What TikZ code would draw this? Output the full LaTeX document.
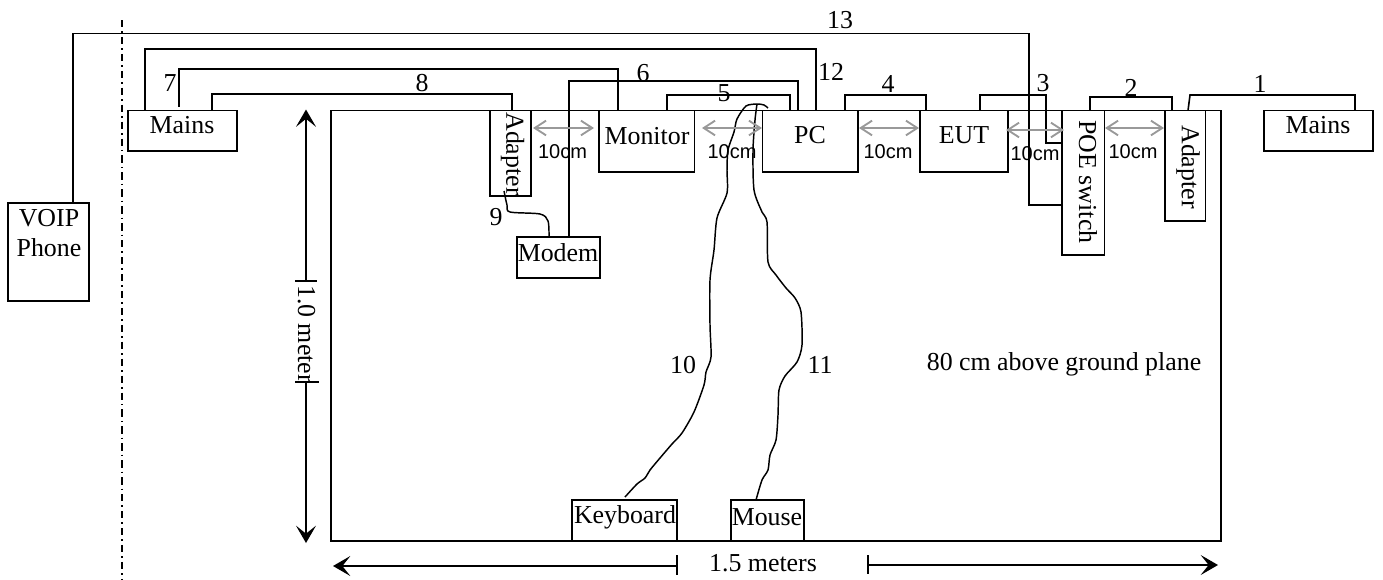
\documentclass[tikz,border=0pt]{standalone}
\usepackage{fontspec}
\setmainfont{Liberation Serif}
\newfontfamily\arialf{Liberation Sans}
\usetikzlibrary{arrows.meta,calc}
\newcommand{\devbox}[5]{%
  \pgfmathsetmacro{\bw}{(#4-#2)*0.75}\pgfmathsetmacro{\bh}{(#5-#3)*0.75}%
  \pgfmathsetmacro{\cx}{(#4+#2)/2}\pgfmathsetmacro{\cy}{(#5+#3)/2}%
  \node[devb,minimum width=\bw pt,minimum height=\bh pt] (#1) at (\cx,\cy) {};}
\tikzset{
  devb/.style={draw=black,line width=1.2pt,inner sep=0pt,outer sep=0pt,rectangle},
  wire/.style={draw=black,line width=1.2pt,line join=miter},
  cable/.style={draw=black,line width=1.1pt,line join=round},
  txt/.style={font=\fontsize{19.4pt}{23pt}\selectfont,inner sep=0pt,outer sep=0pt,text=black},
  rot/.style={txt,rotate=-90},
  dist/.style={font=\arialf\fontsize{15pt}{18pt}\selectfont,inner sep=0pt,text=black},
  gap/.style={draw=black!40,line width=1.4pt,{Straight Barb[length=8.5pt,width=11pt]}-{Straight Barb[length=8.5pt,width=11pt]}},
  dim/.style={draw=black,line width=1.1pt},
  dimtip/.style={-{Stealth[length=13pt,width=15pt,inset=6pt]}}
}
\begin{document}
\begin{tikzpicture}[x=0.75pt,y=-0.75pt]
\useasboundingbox (0,0) rectangle (1383,579);
% table and boundary
\devbox{table}{331}{110.5}{1221}{541}
\coordinate (bndA) at (122,20);
\coordinate (bndB) at (122,579);
\draw[black,line width=1.15pt,dash pattern=on 5.5pt off 3pt on 1.2pt off 3pt] (bndA) -- (bndB);
% devices
\devbox{voip}{8}{203}{89}{301}
\devbox{mainsL}{128}{110.5}{237}{151}
\devbox{adapL}{490}{110.5}{531}{196}
\devbox{monitor}{599}{110.5}{694.5}{172}
\devbox{pc}{762.5}{110.5}{858}{172}
\devbox{eut}{920}{110.5}{1008}{172}
\devbox{poe}{1062}{110.5}{1104.5}{255}
\devbox{adapR}{1165}{110.5}{1205.5}{221}
\devbox{mainsR}{1264}{110.5}{1373}{151}
\devbox{modem}{517}{237}{600}{278}
\devbox{kbd}{572}{500}{677}{541}
\devbox{mouse}{731}{500}{804}{541}
% device texts
\node[txt] (tv1) at (49,218) {VOIP};
\node[txt] (tv2) at (49,248) {Phone};
\node[txt] (tmL) at (182,125.5) {Mains};
\node[rot] (taL) at (512.5,154) {Adapter};
\node[txt] (tmo) at (647,136) {Monitor};
\node[txt] (tpc) at (810,135) {PC};
\node[txt] (teu) at (964,135) {EUT};
\node[rot] (tpo) at (1088,182) {POE switch};
\node[rot] (taR) at (1188,167) {Adapter};
\node[txt] (tmR) at (1318,125.5) {Mains};
\node[txt] (tmd) at (558,253) {Modem};
\node[txt] (tkb) at (625,517) {Keyboard};
\node[txt] (tms) at (767,517) {Mouse};
% numbered wires
\draw[wire] ($(voip.north west)+(65,0)$) -- ++(0,-169.5) -- (1029,33.5) -- (1029,205) -- ($(poe.north west)+(0,94.5)$);
\draw[wire] ($(mainsL.north west)+(17,0)$) -- ++(0,-61.5) -| ($(pc.north west)+(53.5,0)$);
\draw[wire] ($(mainsL.north west)+(51,-4)$) -- ++(0,-37.5) -| ($(monitor.north west)+(19,0)$);
\draw[wire] ($(mainsL.north west)+(84,0)$) -- ++(0,-16.5) -| ($(adapL.north west)+(22,0)$);
\draw[wire] ($(modem.north west)+(52,0)$) -- ++(0,-156) -| ($(pc.north west)+(35.5,0)$);
\draw[wire] ($(monitor.north west)+(68,0)$) -- ++(0,-15.5) -| ($(pc.north west)+(27.5,0)$);
\draw[wire] ($(pc.north west)+(82.5,0)$) -- ++(0,-15.5) -| ($(eut.north west)+(6,0)$);
\draw[wire] ($(eut.north west)+(60,0)$) -- ++(0,-15.5) -- ++(66,0) -- ++(0,48) -- ($(poe.north west)+(0,32.5)$);
\draw[wire] ($(poe.north west)+(28,0)$) -- ++(0,-13.5) -| ($(adapR.north west)+(7,0)$);
\draw[wire] ($(adapR.north west)+(23,0)$) -- ++(2,-15.5) -| ($(mainsR.north west)+(91,0)$);
% hand-drawn cables
\coordinate (c9a) at (504,191);
\coordinate (c9b) at ($(modem.north west)+(32,0)$);
\draw[cable] plot[smooth,tension=0.5] coordinates {(c9a) (507,205) (510,212) (540,214) (548,221) (c9b)};
\coordinate (c10a) at (768,108);
\coordinate (c10b) at ($(kbd.north west)+(53,-3)$);
\draw[cable] plot[smooth,tension=0.45] coordinates {(c10a) (764,105) (757,104) (746,106) (737,119) (734,132) (728,150) (727,170) (727,193) (717,218) (714,250) (710,280) (710,325) (711,357) (706,372) (704,385) (694,412) (682,433) (672,444) (660,458) (650,470) (645,478) (637,484) (c10b)};
\coordinate (c11a) at (757,104);
\coordinate (c11b) at ($(mouse.north west)+(25,0)$);
\draw[cable] plot[smooth,tension=0.45] coordinates {(c11a) (755,120) (753,150) (754,190) (762,212) (767,222) (768,262) (776,275) (786,288) (795,298) (801,312) (802,345) (797,362) (785,376) (779,390) (778,415) (776,440) (770,455) (768,470) (762,480) (c11b)};
% wire numbers
\node[txt] (n1) at (1260,84) {1};
\node[txt] (n2) at (1131,88) {2};
\node[txt] (n3) at (1043,83) {3};
\node[txt] (n4) at (888,84) {4};
\node[txt] (n5) at (724,93) {5};
\node[txt] (n6) at (643,73) {6};
\node[txt] (n7) at (170,83) {7};
\node[txt] (n8) at (422,83) {8};
\node[txt] (n9) at (496,217) {9};
\node[txt] (n10) at (683,365) {10};
\node[txt] (n11) at (820,365) {11};
\node[txt] (n12) at (831,72) {12};
\node[txt] (n13) at (840,20) {13};
% 10 cm gaps
\coordinate (g1a) at (533,128); \coordinate (g1b) at (594,128);
\coordinate (g2a) at (702,128); \coordinate (g2b) at (762,128);
\coordinate (g3a) at (859,128); \coordinate (g3b) at (919,128);
\coordinate (g4a) at (1006,130); \coordinate (g4b) at (1064,130);
\coordinate (g5a) at (1105,128); \coordinate (g5b) at (1164,128);
\draw[gap] (g1a) -- (g1b);
\draw[gap] (g2a) -- (g2b);
\draw[gap] (g3a) -- (g3b);
\draw[gap] (g4a) -- (g4b);
\draw[gap] (g5a) -- (g5b);
\node[dist] (d1) at (562.5,152) {10cm};
\node[dist] (d2) at (732,152) {10cm};
\node[dist] (d3) at (888,152) {10cm};
\node[dist] (d4) at (1035,154) {10cm};
\node[dist] (d5) at (1133,152) {10cm};
% dimensions
\node[txt] (other) at (1064,364) {80 cm above ground plane};
\node[rot] (dv) at (306.5,334) {1.0 meter};
\node[txt] (dh) at (763,563) {1.5 meters};
\coordinate (v1) at (306,281); \coordinate (v1t) at (306,109.5);
\coordinate (v2) at (306,382); \coordinate (v2t) at (306,543);
\coordinate (h1) at (677,566); \coordinate (h1t) at (333,566);
\coordinate (h2) at (868,565); \coordinate (h2t) at (1218,565);
\draw[dim,dimtip] (v1) -- (v1t);
\draw[dim,dimtip] (v2) -- (v2t);
\draw[dim,dimtip] (h1) -- (h1t);
\draw[dim,dimtip] (h2) -- (h2t);
\draw[dim] ($(v1)+(-11,0)$) -- ($(v1)+(11,0)$);
\draw[dim] ($(v2)+(-11,0)$) -- ($(v2)+(13,0)$);
\draw[dim] ($(h1)+(0,-11)$) -- ($(h1)+(0,9)$);
\draw[dim] ($(h2)+(0,-10)$) -- ($(h2)+(0,9)$);
\end{tikzpicture}
\end{document}
